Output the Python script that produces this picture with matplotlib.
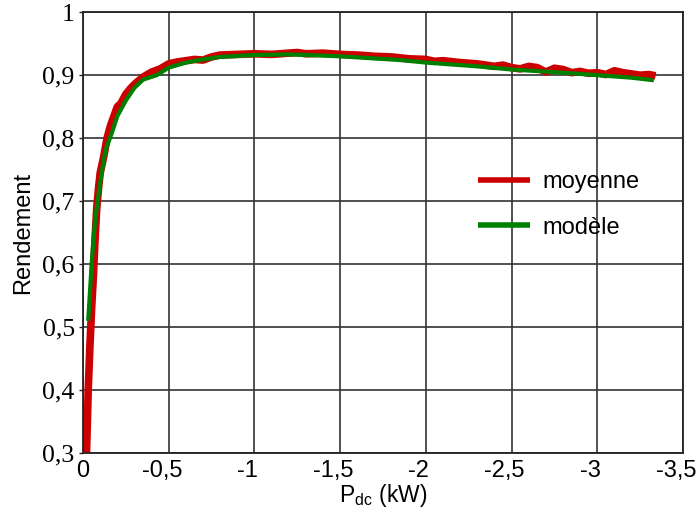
import matplotlib
matplotlib.use("Agg")
import matplotlib.pyplot as plt
from matplotlib.transforms import ScaledTranslation

# mean measured efficiency (red), Pdc in kW
moy_p = [0.02, 0.03, 0.04, 0.05, 0.06, 0.07, 0.08, 0.09, 0.10, 0.12, 0.14, 0.16,
         0.18, 0.20, 0.22, 0.25, 0.28, 0.31, 0.35, 0.40, 0.45, 0.50, 0.55, 0.60,
         0.65, 0.70, 0.75, 0.80, 0.90, 1.00, 1.10, 1.20, 1.25, 1.30, 1.40, 1.50,
         1.60, 1.70, 1.80, 1.90, 2.00, 2.05, 2.10, 2.20, 2.30, 2.40, 2.45, 2.50,
         2.55, 2.60, 2.65, 2.70, 2.75, 2.80, 2.85, 2.90, 2.95, 3.00, 3.05, 3.10,
         3.15, 3.20, 3.25, 3.30, 3.34]
moy_r = [0.300, 0.400, 0.470, 0.530, 0.580, 0.640, 0.690, 0.720, 0.745, 0.770, 0.800, 0.820,
         0.835, 0.850, 0.855, 0.870, 0.880, 0.888, 0.897, 0.905, 0.910, 0.918, 0.921, 0.923,
         0.925, 0.924, 0.929, 0.932, 0.933, 0.934, 0.933, 0.935, 0.936, 0.934, 0.935, 0.933,
         0.932, 0.930, 0.929, 0.926, 0.925, 0.922, 0.923, 0.920, 0.918, 0.914, 0.916, 0.912,
         0.910, 0.914, 0.912, 0.905, 0.911, 0.909, 0.904, 0.906, 0.903, 0.904, 0.901, 0.907,
         0.904, 0.902, 0.900, 0.901, 0.899]

# model (green)
mod_p = [0.03, 0.05, 0.07, 0.10, 0.13, 0.17, 0.20, 0.25, 0.30, 0.35, 0.43, 0.50,
         0.60, 0.70, 0.80, 1.00, 1.20, 1.50, 1.85, 2.00, 2.30, 2.50, 2.80, 3.00,
         3.20, 3.33]
mod_r = [0.510, 0.600, 0.670, 0.730, 0.780, 0.810, 0.835, 0.860, 0.880, 0.893, 0.900, 0.912,
         0.920, 0.925, 0.929, 0.932, 0.933, 0.930, 0.924, 0.920, 0.914, 0.909, 0.904, 0.900,
         0.896, 0.892]

x_ticks = [0, -0.5, -1, -1.5, -2, -2.5, -3, -3.5]
x_labels = ['0', '-0,5', '-1', '-1,5', '-2', '-2,5', '-3', '-3,5']
y_ticks = [0.3, 0.4, 0.5, 0.6, 0.7, 0.8, 0.9, 1.0]
y_labels = ['0,3', '0,4', '0,5', '0,6', '0,7', '0,8', '0,9', '1']

plt.rcParams['font.family'] = ['Liberation Sans', 'DejaVu Sans']

fig = plt.figure(figsize=(6.98, 5.08), dpi=100)
ax = fig.add_axes([0.119, 0.108, 0.8595, 0.868])

ax.plot([-p for p in moy_p], moy_r, color='#cc0000', lw=5.5, label='moyenne',
        solid_capstyle='butt')
ax.plot([-p for p in mod_p], mod_r, color='#008000', lw=3, label='modèle',
        solid_capstyle='butt')

ax.set_xlim(0, -3.5)
ax.set_ylim(0.3, 1.0)
ax.set_xticks(x_ticks)
ax.set_xticklabels([])
# tick labels drawn by hand: the minus sign hangs left of the number
xtr = ax.get_xaxis_transform()
for t, lab in zip(x_ticks, x_labels):
    dx = 0 if t == 0 else -0.07
    ax.text(t, 0, lab, fontsize=17, ha='center', va='top',
            transform=xtr + ScaledTranslation(dx, -0.065, fig.dpi_scale_trans))
ax.set_yticks(y_ticks)
ax.set_yticklabels(y_labels, fontsize=18.5, family='Liberation Serif')
ax.tick_params(axis='x', length=0)
ax.tick_params(axis='y', length=3, width=1, pad=3, color='#222222')
ax.grid(True, color='#333333', lw=1.2)
for s in ax.spines.values():
    s.set_color('#222222')
    s.set_linewidth(1.3)

ax.set_xlabel(r'P$_{\mathregular{dc}}$ (kW)', fontsize=16.5, labelpad=17)
ax.set_ylabel('Rendement', fontsize=17, labelpad=6)

leg = ax.legend(loc='upper left', bbox_to_anchor=(0.658, 0.639), frameon=False,
                fontsize=17, handlelength=2.2, handletextpad=0.55,
                labelspacing=0.98, borderpad=0, borderaxespad=0)
for h in leg.get_lines():
    h.set_linewidth(4)

fig.savefig('out.png', dpi=100)
